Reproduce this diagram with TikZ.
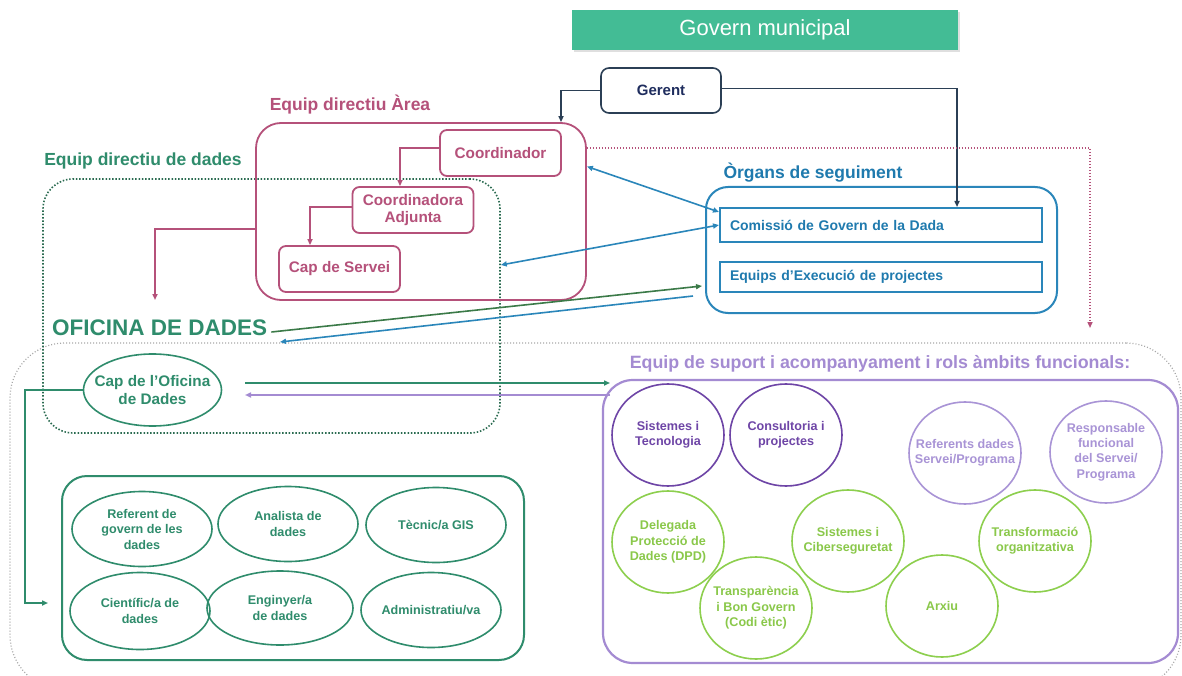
\documentclass[tikz,border=0pt]{standalone}
\usepackage{fontspec}
\setmainfont{Liberation Sans}
\usetikzlibrary{arrows.meta,shapes.geometric,shadows}
\definecolor{govgreen}{HTML}{43BC95}
\definecolor{navy}{HTML}{2B3F55}
\definecolor{navytext}{HTML}{1F2D5E}
\definecolor{pinkc}{HTML}{B5517A}
\definecolor{dgreen}{HTML}{2F8C6C}
\definecolor{dotgreen}{HTML}{2A6B50}
\definecolor{arrgreen}{HTML}{3B7A48}
\definecolor{bluec}{HTML}{2A86BA}
\definecolor{bluetext}{HTML}{1F7AAE}
\definecolor{grayc}{HTML}{A8A8A8}
\definecolor{purplec}{HTML}{A48BD2}
\definecolor{dpurple}{HTML}{6E45A6}
\definecolor{lpurple}{HTML}{A994D6}
\definecolor{lgreen}{HTML}{8DCF4E}
\definecolor{lgreentext}{HTML}{8AC84A}
\begin{document}
\begin{tikzpicture}[x=1pt,y=-1pt,
  tip/.style={-{Triangle[length=6pt,width=5pt]}},
  dtip/.style={{Triangle[length=6pt,width=5pt]}-{Triangle[length=6pt,width=5pt]}},
  pinkbox/.style={draw=pinkc, line width=1.8pt, rounded corners=7pt, text=pinkc, font=\bfseries\fontsize{15.3}{17}\selectfont, align=center, inner sep=0pt, minimum width=121pt, minimum height=46pt},
  bluebox/.style={draw=bluec, line width=2pt, text=bluetext, font=\bfseries\fontsize{14}{16}\selectfont, align=left, text width=302pt, inner xsep=10pt, inner ysep=0pt},
  role/.style={ellipse, draw=dgreen, line width=1.6pt, text=dgreen, font=\bfseries\fontsize{12.6}{15.5}\selectfont, align=center, inner xsep=-25pt, inner ysep=-18pt, minimum width=140pt, minimum height=75pt},
  circ/.style={ellipse, line width=1.6pt, font=\bfseries\fontsize{12.6}{15.4}\selectfont, align=center, inner xsep=-30pt, inner ysep=-25pt, minimum width=112pt, minimum height=102pt},
  dcirc/.style={circ, draw=dpurple, text=dpurple},
  pcirc/.style={circ, draw=lpurple, text=lpurple},
  gcirc/.style={circ, draw=lgreen, text=lgreentext},
  lbl/.style={font=\bfseries\fontsize{17.5}{20}\selectfont, inner sep=0pt},
]
\useasboundingbox[fill=white] (0,0) rectangle (1182,676);

% big gray dotted frame
\node[draw=grayc, line width=1.2pt, dash pattern=on 1pt off 2pt, rounded corners=55pt, minimum width=1171pt, minimum height=347pt, inner sep=0pt] (frame) at (595.5,516.5) {};

% Govern municipal
\node[fill=govgreen, text=white, font=\fontsize{22}{26}\selectfont, minimum width=386pt, minimum height=40pt, inner sep=0pt, drop shadow={shadow xshift=1.5pt, shadow yshift=-2pt, opacity=0.25}] (govern) at (765,30) {Govern municipal};

% Gerent
\node[draw=navy, line width=1.6pt, rounded corners=8pt, text=navytext, font=\bfseries\fontsize{15}{17}\selectfont, minimum width=120pt, minimum height=45pt, inner sep=0pt] (gerent) at (661,90.5) {Gerent};

% Equip directiu de dades (dotted)
\node[lbl, text=dgreen] (dadeslbl) at (143,161) {Equip directiu de dades};
\node[draw=dotgreen, line width=1.6pt, dash pattern=on 1.5pt off 1.8pt, rounded corners=30pt, minimum width=457pt, minimum height=254pt, inner sep=0pt] (dadesbox) at (271.5,306) {};

% Equip directiu Area
\node[lbl, text=pinkc] (arealbl) at (350,105) {Equip directiu Àrea};
\node[draw=pinkc, line width=1.8pt, rounded corners=25pt, minimum width=330pt, minimum height=177pt, inner sep=0pt] (areabox) at (421,211.5) {};
\node[pinkbox] (coord) at (500.5,153) {Coordinador};
\node[pinkbox] (adj) at (413,210) {Coordinadora\\Adjunta};
\node[pinkbox] (capserv) at (339.5,269) {Cap de Servei};

% Organs de seguiment
\node[lbl, text=bluetext] (organslbl) at (813,173) {Òrgans de seguiment};
\node[draw=bluec, line width=2pt, rounded corners=22pt, minimum width=351pt, minimum height=126pt, inner sep=0pt] (organsbox) at (881.5,250) {};
\node[bluebox, minimum height=34pt] (comissio) at (881,225) {Comissió de Govern de la Dada};
\node[bluebox, minimum height=30pt] (equips) at (881,277) {Equips d’Execució de projectes};

% Oficina de dades
\node[anchor=west, text=dgreen, font=\bfseries\fontsize{22.5}{26}\selectfont, inner sep=0pt] (oficina) at (52,328) {OFICINA DE DADES};
\node[ellipse, draw=dgreen, line width=1.6pt, text=dgreen, font=\bfseries\fontsize{15.3}{17.5}\selectfont, align=center, inner xsep=-30pt, inner ysep=-12pt, minimum width=138pt, minimum height=72pt] (capof) at (152.5,390) {Cap de l’Oficina\\de Dades};

\node[draw=dgreen, line width=2pt, rounded corners=25pt, minimum width=462pt, minimum height=184pt, inner sep=0pt] (greenbox) at (293,568) {};
\node[role] (ref) at (142,529) {Referent de\\govern de les\\dades};
\node[role] (anal) at (288,524) {Analista de\\dades};
\node[role] (gis) at (436,525) {Tècnic/a GIS};
\node[role, minimum height=77pt] (cien) at (140,611) {Científic/a de\\dades};
\node[role, minimum width=146pt, minimum height=74pt] (eng) at (280,608) {Enginyer/a\\de dades};
\node[role] (adm) at (431,610) {Administratiu/va};

% Equip de suport
\node[lbl, text=purplec, font=\bfseries\fontsize{17.8}{20}\selectfont] (suportlbl) at (880,364) {Equip de suport i acompanyament i rols àmbits funcionals:};
\node[draw=purplec, line width=2.2pt, rounded corners=30pt, minimum width=575pt, minimum height=283pt, inner sep=0pt] (purplebox) at (890.5,521.5) {};
\node[dcirc] (sist) at (668,435) {Sistemes i\\Tecnologia};
\node[dcirc] (cons) at (786,435) {Consultoria i\\projectes};
\node[pcirc] (refs) at (965,453) {Referents dades\\Servei/Programa};
\node[pcirc] (resp) at (1106,452) {Responsable\\funcional\\del Servei/\\Programa};
\node[gcirc] (dpd) at (668,542) {Delegada\\Protecció de\\Dades (DPD)};
\node[gcirc] (transp) at (756,608) {Transparència\\i Bon Govern\\(Codi ètic)};
\node[gcirc] (cib) at (848,541) {Sistemes i\\Ciberseguretat};
\node[gcirc] (arxiu) at (942,606) {Arxiu};
\node[gcirc] (transf) at (1035,541) {Transformació\\organitzativa};

% free-end coordinates
\coordinate (oftipa) at (155,300);
\coordinate (pinktip) at (1090,328);
\coordinate (oftipb) at (280,342);
\coordinate (lft) at (25,0);
\coordinate (cientip) at (48,603);
\coordinate (ga1) at (245,383);
\coordinate (ga2) at (610,383);
\coordinate (pa1) at (610,395);
\coordinate (pa2) at (245,395);

% connectors
\draw[navy, line width=1.6pt, tip] (gerent.west) -| ([xshift=140pt]areabox.north);
\draw[navy, line width=1.6pt, tip] ([yshift=2pt]gerent.east) -| ([xshift=76pt]comissio.north);
\draw[pinkc, line width=1.6pt, tip] ([yshift=5pt]coord.west) -| ([xshift=-13pt]adj.north);
\draw[pinkc, line width=1.6pt, tip] ([yshift=3pt]adj.west) -| ([xshift=-29.5pt]capserv.north);
\draw[pinkc, line width=1.6pt, tip] ([yshift=-17.5pt]areabox.west) -| (oftipa);
\draw[pinkc, line width=1.4pt, dash pattern=on 1.2pt off 1.8pt, tip] ([yshift=63.5pt]areabox.east) -| (pinktip);
\draw[bluec, line width=1.6pt, dtip] ([yshift=45pt]areabox.east) -- ([yshift=13pt]comissio.west);
\draw[bluec, line width=1.6pt, dtip] (comissio.west) -- ([yshift=41pt]dadesbox.east);
\draw[arrgreen, line width=1.6pt, tip] ([xshift=4pt,yshift=-4pt]oficina.east) -- ([xshift=-3pt,yshift=-36pt]organsbox.west);
\draw[bluec, line width=1.6pt, tip] ([xshift=-12pt,yshift=-46pt]organsbox.west) -- (oftipb);
\draw[dgreen, line width=1.6pt, tip] (capof.west) -- (capof.west -| lft) |- (cientip);
\draw[dgreen, line width=1.6pt, tip] (ga1) -- (ga2);
\draw[purplec, line width=1.6pt, tip] (pa1) -- (pa2);
\end{tikzpicture}
\end{document}
